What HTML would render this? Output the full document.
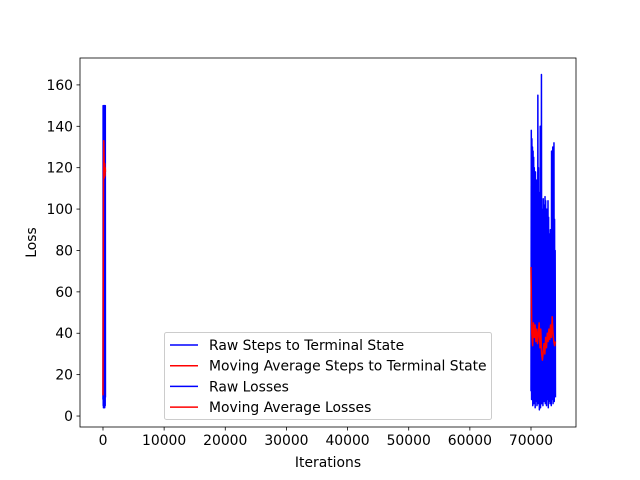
<!DOCTYPE html>
<html><head><meta charset="utf-8"><style>
body{margin:0;background:#fff}
svg{display:block;font-family:"DejaVu Sans","Liberation Sans",sans-serif}
</style></head><body>
<svg id="c" width="640" height="480" viewBox="0 0 640 480"></svg>
<script>
const leftX = [0,20,40,60,80,100,120,140,160,180,200,220,240,260,280,300,320,340,360,380,400];
const leftRaw = [8,150,5,148,4,150,10,149,6,150,5,147,8,150,4,150,7,149,5,150,9];
const leftMaX = [0,40,80,120,160,200,240,280,320,360,400];
const leftMa = [10,60,110,133,125,115,118,122,116,120,118];
const rightX = [];
const rightRaw = [12,138,8,134,10,130,5,128,14,125,6,120,9,112,4,118,12,110,7,114,5,112,10,155,6,120,11,108,3,104,9,140,4,110,13,165,6,100,10,98,5,105,12,102,7,95,9,106,6,104,12,98,5,100,8,92,10,104,4,96,7,88,11,85,6,90,9,82,5,128,8,122,10,130,6,126,9,132,7,95,12,80,9];
const rightMa = [72,40,34,45,38,44,36,42,35,40,45,33,42,30,27,31,35,30,38,33,40,36,42,37,44,38,48,40,36,34,36];
const rightMaX = [];
for(let i=0;i<rightRaw.length;i++) rightX.push(70000+i*4000/(rightRaw.length-1));
for(let i=0;i<rightMa.length;i++) rightMaX.push(70000+i*4000/(rightMa.length-1));
const xTicks = [0,10000,20000,30000,40000,50000,60000,70000];
const yTicks = [0,20,40,60,80,100,120,140,160];
const legendLabels = ["Raw Steps to Terminal State","Moving Average Steps to Terminal State","Raw Losses","Moving Average Losses"];
const legendColors = ["#0000ff","#ff0000","#0000ff","#ff0000"];

const L=80,R=576,T=58,B=427;
const xmin=-3760,xmax=77360,ymin=-5.3,ymax=173;
const sx=v=>L+(v-xmin)/(xmax-xmin)*(R-L);
const sy=v=>B-(v-ymin)/(ymax-ymin)*(B-T);
const svg=document.getElementById('c');
const NS='http://www.w3.org/2000/svg';
const FS=13.9;
function mk(t,a,p){const e=document.createElementNS(NS,t);for(const k in a)e.setAttribute(k,a[k]);(p||svg).appendChild(e);return e;}
function line(xs,ys,col){
  const d=xs.map((x,i)=>(i?'L':'M')+sx(x).toFixed(2)+' '+sy(ys[i]).toFixed(2)).join(' ');
  return mk('path',{d:d,fill:'none',stroke:col,'stroke-width':1.5,'stroke-linejoin':'round'});
}
const l1=line(leftX,leftRaw,'#0000ff');


const l2=line(leftMaX,leftMa,'#ff0000');


const l3=line(rightX,rightRaw,'#0000ff');


const l4=line(rightMaX,rightMa,'#ff0000');


const frame=mk('rect',{x:L,y:T,width:R-L,height:B-T,fill:'none',stroke:'#000','stroke-width':0.8});


xTicks.forEach(v=>{
  const x=sx(v);
  mk('line',{x1:x,x2:x,y1:B,y2:B+3.5,stroke:'#000','stroke-width':0.8});
  const t=mk('text',{x:x,y:B+18,'text-anchor':'middle','font-size':FS});
  t.textContent=v;
  
  
});
yTicks.forEach(v=>{
  const y=sy(v);
  mk('line',{x1:L-3.5,x2:L,y1:y,y2:y,stroke:'#000','stroke-width':0.8});
  const t=mk('text',{x:L-7,y:y+5,'text-anchor':'end','font-size':FS});
  t.textContent=v;
  
  
});
const xt=mk('text',{x:(L+R)/2,y:467,'text-anchor':'middle','font-size':FS});xt.textContent='Iterations';


const yt=mk('text',{x:0,y:0,'text-anchor':'middle','font-size':FS,transform:'translate(36,'+((T+B)/2)+') rotate(-90)'});yt.textContent='Loss';


const lg=mk('g',{});


mk('rect',{x:164.5,y:332.5,width:327,height:87,rx:2,fill:'#fff','fill-opacity':0.8,stroke:'#ccc'},lg);
legendLabels.forEach((s,i)=>{
  const y=345+i*20.7;
  mk('line',{x1:170,x2:198,y1:y,y2:y,stroke:legendColors[i],'stroke-width':1.5},lg);
  const t=mk('text',{x:209,y:y+5,'font-size':FS},lg);t.textContent=s;
  
  
});
</script>
</body></html>
